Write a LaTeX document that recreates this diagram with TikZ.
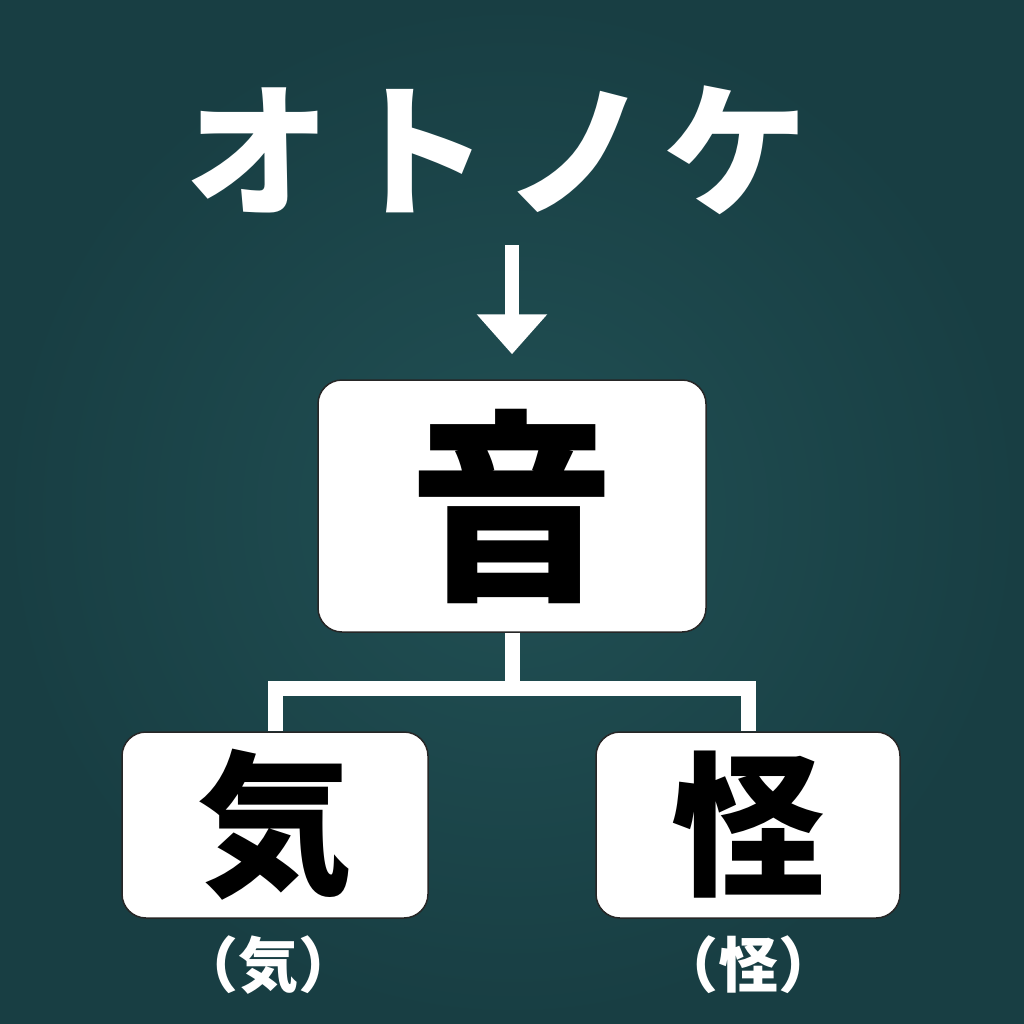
\documentclass[tikz,border=0pt]{standalone}
\usepackage{fontspec}
\newfontfamily\jpfont{Noto Sans CJK JP}
\usetikzlibrary{arrows.meta}
\definecolor{bgteal}{RGB}{33,80,84}
\definecolor{bgdark}{RGB}{24,62,67}
\begin{document}
\begin{tikzpicture}[x=1pt, y=-1pt,
		box/.style = {draw=black!85, line width=1.5pt, fill=white, rounded corners=24pt, inner sep=0pt},
		link/.style = {draw=white, line width=15pt, line join=miter},
		arr/.style = {draw=white, line width=14pt, -{Triangle[length=40pt, width=68pt]}},
		jp/.style = {font=\jpfont\bfseries\fontsize{#1}{#1}\selectfont}]
	\fill[inner color=bgteal, outer color=bgdark] (0,0) rectangle (1024,1024);
	\node[jp=145, text=white] (title) at (497,150) {\addfontfeature{LetterSpace=10}オトノケ};
	\node[box, jp=205, minimum width=388pt, minimum height=252pt] (sound) at (512,506) {音};
	\node[box, jp=155, minimum width=306pt, minimum height=186pt] (ki) at (275,825) {気};
	\node[box, jp=155, minimum width=304pt, minimum height=186pt] (kai) at (748,825) {怪};
	\node[jp=60, text=white] (kilbl) at (268,965) {（気）};
	\node[jp=60, text=white] (kailbl) at (748,965) {（怪）};
	\coordinate (arrtop) at (512,245);
	\draw[arr] (arrtop) -- ([yshift=25pt]sound.north);
	\draw[link] (sound.south) -- ++(0,56) -| (ki.north);
	\draw[link] (sound.south) -- ++(0,56) -| (kai.north);
\end{tikzpicture}
\end{document}
